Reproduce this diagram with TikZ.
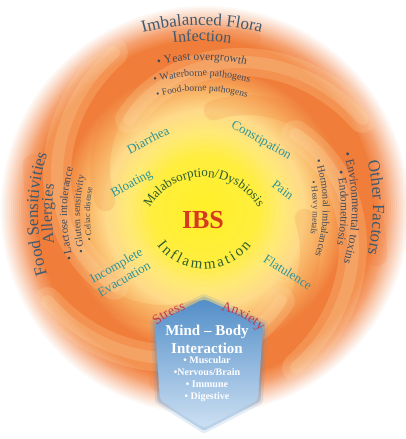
\documentclass[tikz,border=0pt]{standalone}
\usepackage{fontspec}
\setmainfont{Liberation Serif}
\usepackage{tikz}
\usetikzlibrary{decorations.text}
\usepackage{xcolor}
\definecolor{ibsyellow}{RGB}{255,240,40}
\definecolor{ibsyellow2}{RGB}{255,238,62}
\definecolor{ibspale}{RGB}{255,234,118}
\definecolor{ibscream}{RGB}{254,218,138}
\definecolor{ibspeach}{RGB}{249,178,100}
\definecolor{ibsorange}{RGB}{240,126,58}
\definecolor{ibsrim}{RGB}{245,160,110}
\definecolor{ibsfade}{RGB}{250,210,188}
\definecolor{ibslight}{RGB}{255,226,176}
\definecolor{ibsslate}{RGB}{62,90,112}
\definecolor{ibsink}{RGB}{66,74,90}
\definecolor{ibsteal}{RGB}{45,148,150}
\definecolor{ibsgreen}{RGB}{45,92,48}
\definecolor{ibsred}{RGB}{214,58,30}
\definecolor{ibscrimson}{RGB}{198,55,78}
\definecolor{ibsblue}{RGB}{82,142,200}
\definecolor{ibsbluelight}{RGB}{205,224,243}
\newcommand{\ibshead}{\color{ibsslate}\fontsize{17}{20}\selectfont}
\newcommand{\ibsitem}[1]{\color{ibsink}\fontsize{#1}{#1}\selectfont}
\newcommand{\ibscore}{\color{ibsgreen}\fontsize{13}{15}\selectfont}
\tikzstyle{symptom} = [text=ibsteal, font=\fontsize{13}{15}\selectfont, align=center, inner sep=0pt]
\tikzstyle{mindtext} = [text=white, font=\bfseries, align=center, inner sep=0pt]
\tikzstyle{swirlwide} = [line width=28pt, line cap=round, ibslight, opacity=0.2]
\tikzstyle{swirlthin} = [line width=12pt, line cap=round, ibslight, opacity=0.22]
\tikzstyle{armwide} = [line width=20pt, line cap=round, ibsorange, opacity=0.18]
\tikzset{arcword/.style={decorate, decoration={text along path, text align=center, text={#1}}}}
\begin{document}
\begin{tikzpicture}[x=1pt, y=1pt]
\useasboundingbox (0,-439) rectangle (406,0);
\fill[white] (0,-439) rectangle (406,0);

% glowing disc, ring by ring
\coordinate (disc) at (205,-210);
\foreach \ro/\ri/\co/\ci in {206/194/white/ibsfade, 194/182/ibsfade/ibsrim, 182/170/ibsrim/ibsorange, 170/144/ibsorange/ibsorange, 144/120/ibsorange/ibspeach, 120/100/ibspeach/ibscream, 100/78/ibscream/ibspale, 78/54/ibspale/ibsyellow2, 54/2/ibsyellow2/ibsyellow}{
  \pgfmathtruncatemacro{\n}{\ro-\ri}
  \foreach \d [evaluate=\d as \p using 100-100*\d/\n, evaluate=\d as \r using \ro-\d] in {0,2,...,\n}
    \fill[\co!\p!\ci] (disc) circle[radius=\r];
}
\begin{scope}
\clip (disc) circle[radius=190];
\foreach \a in {40,130,220,310}{
  \draw[armwide, shift={(205,-210)}] plot[domain=0:1, samples=30] ({\a+45-100*\x}:{100+78*\x});
  \draw[swirlwide, shift={(205,-210)}] plot[domain=0:1, samples=30] ({\a-100*\x}:{118+64*\x});
  \draw[swirlthin, shift={(205,-210)}] plot[domain=0:1, samples=30] ({\a-100*\x}:{118+64*\x});
}
\end{scope}

% mind-body block
\coordinate (hextop) at (204,-299);
\coordinate (hexur) at (263,-325);
\coordinate (hexlr) at (258,-400);
\coordinate (hexbot) at (204,-428);
\coordinate (hexll) at (160,-400);
\coordinate (hexul) at (155,-323);
\foreach \w/\o in {10/0.15, 5/0.3}
  \draw[ibsblue, line width=\w pt, opacity=\o, line join=round] (hextop) -- (hexur) -- (hexlr) -- (hexbot) -- (hexll) -- (hexul) -- cycle;
\shade[top color=ibsblue, middle color=ibsblue, bottom color=ibsbluelight, rounded corners=4pt] (hextop) -- (hexur) -- (hexlr) -- (hexbot) -- (hexll) -- (hexul) -- cycle;
\node[mindtext, font=\bfseries\fontsize{15}{18}\selectfont] (mindbody) at (207,-339) {Mind -- Body\\Interaction};
\node[mindtext, font=\bfseries\fontsize{10}{12}\selectfont] (systems) at (207,-379) {\textbullet\ Muscular\\\textbullet Nervous/Brain\\\textbullet\ Immune\\\textbullet\ Digestive};

% centre
\node[text=ibsred, font=\bfseries\fontsize{26}{30}\selectfont, inner sep=0pt] (ibs) at (203,-220) {IBS};
\path[shift={(204,-240)}, arcword={|\ibscore|Malabsorption/Dysbiosis}] (160:63) arc[start angle=160, end angle=20, radius=63];
\path[shift={(204,-210)}, decorate, decoration={text along path, text align=fit to path, text={|\color{ibsgreen}\fontsize{15}{17}\selectfont|Inflammation}}] (217:59) arc[start angle=217, end angle=323, radius=59];

% symptoms
\node[symptom, rotate=27] (diarrhea) at (148,-140) {Diarrhea};
\node[symptom, rotate=-29] (constipation) at (261,-141) {Constipation};
\node[symptom, rotate=29] (bloating) at (132,-184) {Bloating};
\node[symptom, rotate=-37] (pain) at (283,-190) {Pain};
\node[symptom, rotate=30, font=\fontsize{13}{15.5}\selectfont] (evacuation) at (120,-272) {Incomplete\\Evacuation};
\node[symptom, rotate=-32] (flatulence) at (288,-272) {Flatulence};

% stress and anxiety
\path[shift={(207,-385)}, arcword={|\color{ibscrimson}\fontsize{14}{16}\selectfont|Stress}] (140:78) arc[start angle=140, end angle=96, radius=78];
\path[shift={(207,-385)}, arcword={|\color{ibscrimson}\fontsize{14}{16}\selectfont|Anxiety}] (84:76) arc[start angle=84, end angle=41, radius=76];

% imbalanced flora
\path[shift={(202,-250)}, arcword={|\ibshead|Imbalanced Flora}] (130:225) arc[start angle=130, end angle=50, radius=225];
\path[shift={(202,-250)}, arcword={|\color{ibsslate}\fontsize{16}{18}\selectfont|Infection}] (130:209) arc[start angle=130, end angle=50, radius=209];
\path[shift={(202,-250)}, arcword={|\ibsitem{11.5}|• Yeast overgrowth}] (130:190) arc[start angle=130, end angle=50, radius=190];
\path[shift={(202,-250)}, arcword={|\ibsitem{10}|• Waterborne pathogens}] (130:174) arc[start angle=130, end angle=50, radius=174];
\path[shift={(202,-250)}, arcword={|\ibsitem{9.5}|• Food-borne pathogens}] (130:159) arc[start angle=130, end angle=50, radius=159];

% food sensitivities
\path[shift={(238,-214)}, arcword={|\ibshead|Food Sensitivities}] (225:200) arc[start angle=225, end angle=135, radius=200];
\path[shift={(238,-214)}, arcword={|\color{ibsslate}\fontsize{16}{18}\selectfont|Allergies}] (225:186) arc[start angle=225, end angle=135, radius=186];
\path[shift={(238,-214)}, arcword={|\ibsitem{11}|• Lactose intolerance}] (225:171) arc[start angle=225, end angle=135, radius=171];
\path[shift={(238,-214)}, arcword={|\ibsitem{10}|• Gluten sensitivity}] (225:158) arc[start angle=225, end angle=135, radius=158];
\path[shift={(238,-214)}, arcword={|\ibsitem{8.5}|• Celiac disease}] (225:148) arc[start angle=225, end angle=135, radius=148];

% other factors
\path[shift={(175,-208)}, arcword={|\ibshead|Other Factors}] (45:198) arc[start angle=45, end angle=-45, radius=198];
\path[shift={(175,-208)}, arcword={|\ibsitem{12}|• Environmental toxins}] (45:177) arc[start angle=45, end angle=-45, radius=177];
\path[shift={(175,-208)}, arcword={|\ibsitem{11.5}|• Endometriosis}] (45:166) arc[start angle=45, end angle=-45, radius=166];
\path[shift={(175,-208)}, arcword={|\ibsitem{10.3}|• Hormonal imbalances}] (45:148) arc[start angle=45, end angle=-45, radius=148];
\path[shift={(175,-208)}, arcword={|\ibsitem{8.7}|• Heavy metals}] (45:138) arc[start angle=45, end angle=-45, radius=138];
\end{tikzpicture}
\end{document}
